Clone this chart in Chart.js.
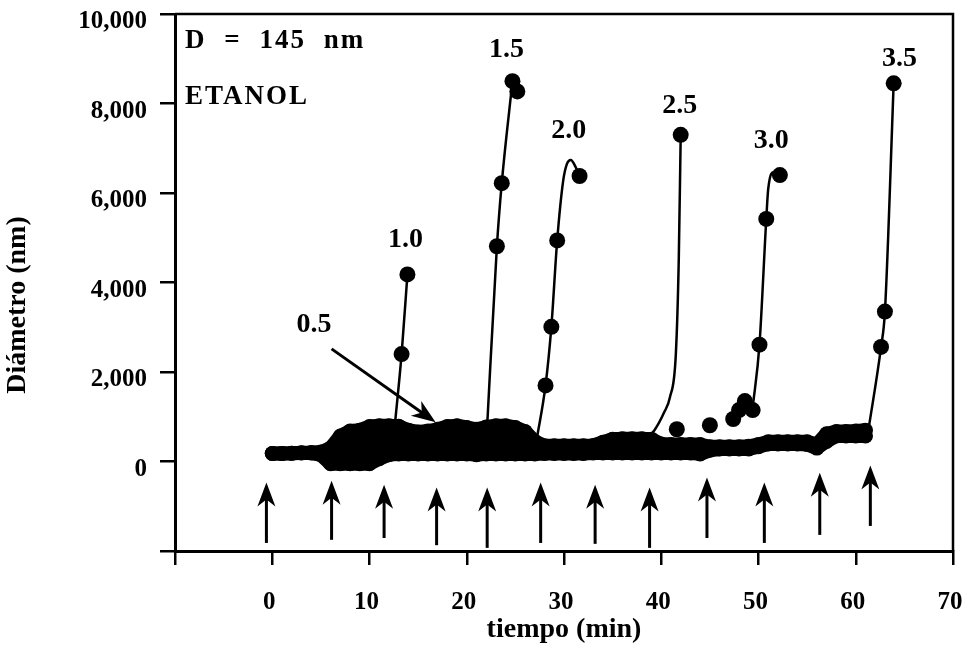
<!DOCTYPE html>
<html>
<head>
<meta charset="utf-8">
<script src="https://cdn.jsdelivr.net/npm/chart.js@4.4.0/dist/chart.umd.min.js"></script>
<style>
html, body { margin: 0; background: #fff; }
#wrap { width: 972px; height: 652px; }
</style>
</head>
<body>
<div id="wrap"><canvas id="chart"></canvas></div>
<script>
// dense band of measurements (lower / upper edge of the cloud), per minute
const bandTime = [0,1,2,3,4,5,6,7,8,9,10,11,12,13,14,15,16,17,18,19,20,21,22,23,24,25,26,27,28,29,30,
                  31,32,33,34,35,36,37,38,39,40,41,42,43,44,45,46,47,48,49,50,51,52,53,54,55,56,57,58,59,60,61];
const bandLow  = [180,180,185,190,190,150,-50,-50,-50,-50,-50,60,150,170,170,170,170,170,170,170,170,150,170,170,170,170,170,170,180,180,180,
                  180,180,190,190,190,190,190,190,190,190,190,190,190,170,250,280,280,280,280,330,390,390,390,390,380,300,450,570,570,570,570];
const bandHigh = [180,180,185,195,200,210,300,570,680,700,780,800,800,790,700,660,680,720,780,800,760,720,770,800,800,760,670,450,350,350,350,
                  350,350,360,430,500,510,510,510,500,390,380,380,380,380,330,330,330,330,340,380,440,440,440,440,440,380,620,670,670,680,700];

// loose points just above the band
const extraTime = [41.6, 45.0, 47.4, 48.0, 48.6, 49.4];
const extraDiam = [720, 810, 950, 1150, 1350, 1150];

// growth curves (line path) and measured points for each concentration
const c10LineT = [12.6, 13.3, 13.9];            const c10LineD = [800, 2400, 4180];
const c10PtsT  = [13.3, 13.9];                  const c10PtsD  = [2400, 4180];
const c15LineT = [22.1, 23.1, 23.6, 24.7];      const c15LineD = [800, 4810, 6220, 8500];
const c15PtsT  = [23.1, 23.6, 24.7, 25.2];      const c15PtsD  = [4810, 6220, 8500, 8270];
const c20LineT = [27.2, 28.1, 28.7, 29.3, 29.9, 30.3, 30.7, 31.2, 31.6];
const c20LineD = [500, 1700, 3010, 4940, 6250, 6650, 6740, 6580, 6380];
const c20PtsT  = [28.1, 28.7, 29.3, 31.6];      const c20PtsD  = [1700, 3010, 4940, 6380];
const c25LineT = [38.5, 39.3, 40.3, 40.9, 41.5, 41.8, 42.0];
const c25LineD = [520, 700, 1100, 1440, 2400, 4500, 7300];
const c25PtsT  = [42.0];                        const c25PtsD  = [7300];
const c30LineT = [49.4, 50.1, 50.8, 51.0, 51.6, 52.2];
const c30LineD = [1200, 2610, 5420, 6090, 6470, 6400];
const c30PtsT  = [50.1, 50.8, 52.2];            const c30PtsD  = [2610, 5420, 6400];
const c35LineT = [61.3, 62.6, 63.0, 63.9];      const c35LineD = [700, 2560, 3350, 8450];
const c35PtsT  = [62.6, 63.0, 63.9];            const c35PtsD  = [2560, 3350, 8450];

// addition times (arrows under the curves)
const arrowTime = [-0.6, 6.1, 11.5, 16.9, 22.1, 27.6, 33.2, 38.8, 44.7, 50.6, 56.3, 61.5];
const arrowTip  = [-470, -430, -520, -580, -580, -470, -520, -580, -360, -470, -250, -90];
const arrowBase = [-1820, -1750, -1710, -1870, -1930, -1820, -1840, -1930, -1710, -1820, -1640, -1440];

// concentration labels
const labelText = ['0.5', '1.0', '1.5', '2.0', '2.5', '3.0', '3.5'];
const labelTime = [4.3, 13.7, 24.1, 30.5, 41.9, 51.3, 64.5];
const labelDiam = [3056, 4966, 9190, 7393, 7955, 7170, 9010];
const pointerFrom = [6.1, 2517];
const pointerTo = [16.8, 876];

const serif = "'Liberation Serif', 'Times New Roman', serif";
const xy = (ts, ds) => ts.map((t, i) => ({x: t, y: ds[i]}));

function curve(ts, ds) {
  return {data: xy(ts, ds), borderColor: '#000', borderWidth: 2.5, pointRadius: 0,
          cubicInterpolationMode: 'monotone', fill: false};
}
function dots(ts, ds) {
  return {data: xy(ts, ds), showLine: false, pointRadius: 8, pointBackgroundColor: '#000',
          pointBorderWidth: 0, borderColor: '#000'};
}
function bandEdge(ds, fill) {
  return {data: xy(bandTime, ds), borderColor: '#000', borderWidth: 14, borderJoinStyle: 'round',
          borderCapStyle: 'round', pointRadius: 7.5, pointBackgroundColor: '#000', pointBorderWidth: 0,
          fill: fill, backgroundColor: '#000'};
}

function drawArrow(ctx, x0, y0, x1, y1) {
  const ang = Math.atan2(y1 - y0, x1 - x0), c = Math.cos(ang), s = Math.sin(ang);
  const pt = (back, side) => [x1 - back * c - side * s, y1 - back * s + side * c];
  ctx.lineWidth = 3;
  ctx.beginPath(); ctx.moveTo(x0, y0); ctx.lineTo(...pt(14, 0)); ctx.stroke();
  ctx.beginPath();
  ctx.moveTo(x1, y1);
  ctx.lineTo(...pt(24, 9));
  ctx.lineTo(...pt(17, 0));
  ctx.lineTo(...pt(24, -9));
  ctx.closePath();
  ctx.fill();
}

const overlay = {
  id: 'overlay',
  afterDatasetsDraw(chart) {
    const {ctx, chartArea: a, scales: {x, y}} = chart;
    ctx.save();
    ctx.strokeStyle = '#000';
    ctx.fillStyle = '#000';
    // top and right frame
    ctx.lineWidth = 2.5;
    ctx.beginPath();
    ctx.moveTo(a.left, a.top); ctx.lineTo(a.right, a.top); ctx.lineTo(a.right, a.bottom);
    ctx.stroke();

    arrowTime.forEach((t, i) => {
      const px = x.getPixelForValue(t);
      drawArrow(ctx, px, y.getPixelForValue(arrowBase[i]), px, y.getPixelForValue(arrowTip[i]));
    });
    drawArrow(ctx, x.getPixelForValue(pointerFrom[0]), y.getPixelForValue(pointerFrom[1]),
              x.getPixelForValue(pointerTo[0]), y.getPixelForValue(pointerTo[1]));

    ctx.font = 'bold 28px ' + serif;
    ctx.textAlign = 'center';
    ctx.textBaseline = 'middle';
    labelText.forEach((s, i) => ctx.fillText(s, x.getPixelForValue(labelTime[i]), y.getPixelForValue(labelDiam[i])));

    ctx.textAlign = 'left';
    ctx.textBaseline = 'alphabetic';
    ctx.font = 'bold 27px ' + serif;
    ctx.letterSpacing = '2px';
    ctx.wordSpacing = '9px';
    ctx.fillText('D = 145 nm', a.left + 10, 48);
    ctx.wordSpacing = '0px';
    ctx.fillText('ETANOL', a.left + 10, 104);
    ctx.letterSpacing = '0px';

    // y axis title
    ctx.translate(18, 305);
    ctx.rotate(-Math.PI / 2);
    ctx.font = 'bold 28px ' + serif;
    ctx.textAlign = 'center';
    ctx.textBaseline = 'middle';
    ctx.fillText('Diámetro (nm)', 0, 0);
    ctx.restore();
  }
};

new Chart(document.getElementById('chart'), {
  type: 'line',
  data: {
    datasets: [
      bandEdge(bandLow, false),
      bandEdge(bandHigh, '-1'),
      dots(extraTime, extraDiam),
      curve(c10LineT, c10LineD), dots(c10PtsT, c10PtsD),
      curve(c15LineT, c15LineD), dots(c15PtsT, c15PtsD),
      curve(c20LineT, c20LineD), dots(c20PtsT, c20PtsD),
      curve(c25LineT, c25LineD), dots(c25PtsT, c25PtsD),
      curve(c30LineT, c30LineD), dots(c30PtsT, c30PtsD),
      curve(c35LineT, c35LineD), dots(c35PtsT, c35PtsD)
    ]
  },
  options: {
    responsive: true,
    maintainAspectRatio: false,
    animation: false,
    layout: {padding: {top: 14, right: 19, left: 0, bottom: 0}},
    plugins: {legend: {display: false}, tooltip: {enabled: false}},
    scales: {
      x: {
        type: 'linear', min: -10, max: 70,
        ticks: {stepSize: 10, color: '#000', padding: 23, labelOffset: -3,
                font: {family: serif, size: 25, weight: 'bold'},
                callback: v => v < 0 ? '' : v},
        grid: {drawOnChartArea: false, color: '#000', lineWidth: 2.5, tickLength: 14},
        border: {color: '#000', width: 3},
        title: {display: true, text: 'tiempo (min)', color: '#000', padding: {top: 0, bottom: 5},
                font: {family: serif, size: 28, weight: 'bold'}},
        afterFit: s => { s.height = 101; s.paddingLeft = 0; s.paddingRight = 0; }
      },
      y: {
        min: -2000, max: 10000,
        ticks: {stepSize: 2000, color: '#000', padding: 13, labelOffset: 8,
                font: {family: serif, size: 25, weight: 'bold'},
                callback: v => v < 0 ? '' : v.toLocaleString('en-US')},
        grid: {drawOnChartArea: false, color: '#000', lineWidth: 2.5, tickLength: 15},
        border: {color: '#000', width: 3},
        afterFit: s => { s.width = 175; s.paddingTop = 0; s.paddingBottom = 0; }
      }
    }
  },
  plugins: [overlay]
});
</script>
</body>
</html>
